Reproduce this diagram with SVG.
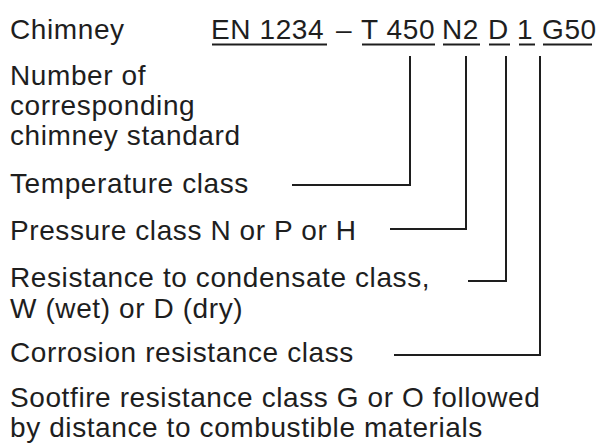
<svg xmlns="http://www.w3.org/2000/svg" width="601" height="444" viewBox="0 0 601 444">
  <style>
    text { font-family: "Liberation Sans", Arial, sans-serif; font-size: 28px; letter-spacing: 0.6px; fill: #1e1e1e; }
    .ul { stroke: #1e1e1e; stroke-width: 2; fill: none; }
    .conn { stroke: #1e1e1e; stroke-width: 2; fill: none; stroke-linejoin: miter; }
  </style>
  <rect width="601" height="444" fill="#ffffff"/>

  <g id="chimney-label">
    <text x="10" y="39">Chimney</text>
  </g>

  <g id="designation">
    <text x="211" y="39">EN 1234</text>
    <text x="336" y="39">–</text>
    <text x="361" y="39">T 450</text>
    <text x="442" y="39">N2</text>
    <text x="488" y="39">D</text>
    <text x="517" y="39">1</text>
    <text x="542" y="39">G50</text>
    <line class="ul" x1="212" y1="44.5" x2="327" y2="44.5"/>
    <line class="ul" x1="362" y1="44.5" x2="435" y2="44.5"/>
    <line class="ul" x1="443" y1="44.5" x2="480" y2="44.5"/>
    <line class="ul" x1="489" y1="44.5" x2="510" y2="44.5"/>
    <line class="ul" x1="519" y1="44.5" x2="535" y2="44.5"/>
    <line class="ul" x1="543" y1="44.5" x2="592" y2="44.5"/>
  </g>

  <g id="standard-number">
    <text x="10" y="85">Number of</text>
    <text x="10" y="115">corresponding</text>
    <text x="10" y="145">chimney standard</text>
  </g>

  <g id="temperature-class">
    <text x="10" y="193">Temperature class</text>
  </g>

  <g id="pressure-class">
    <text x="10" y="240">Pressure class N or P or H</text>
  </g>

  <g id="condensate-class">
    <text x="10" y="287">Resistance to condensate class,</text>
    <text x="10" y="318">W (wet) or D (dry)</text>
  </g>

  <g id="corrosion-class">
    <text x="10" y="362">Corrosion resistance class</text>
  </g>

  <g id="sootfire-class">
    <text x="10" y="407">Sootfire resistance class G or O followed</text>
    <text x="10" y="437">by distance to combustible materials</text>
  </g>

  <g id="connectors">
    <polyline class="conn" points="410,56 410,185 292,185"/>
    <polyline class="conn" points="466,56 466,229 390,229"/>
    <polyline class="conn" points="506,56 506,281 468,281"/>
    <polyline class="conn" points="540,56 540,355 394,355"/>
  </g>
</svg>
